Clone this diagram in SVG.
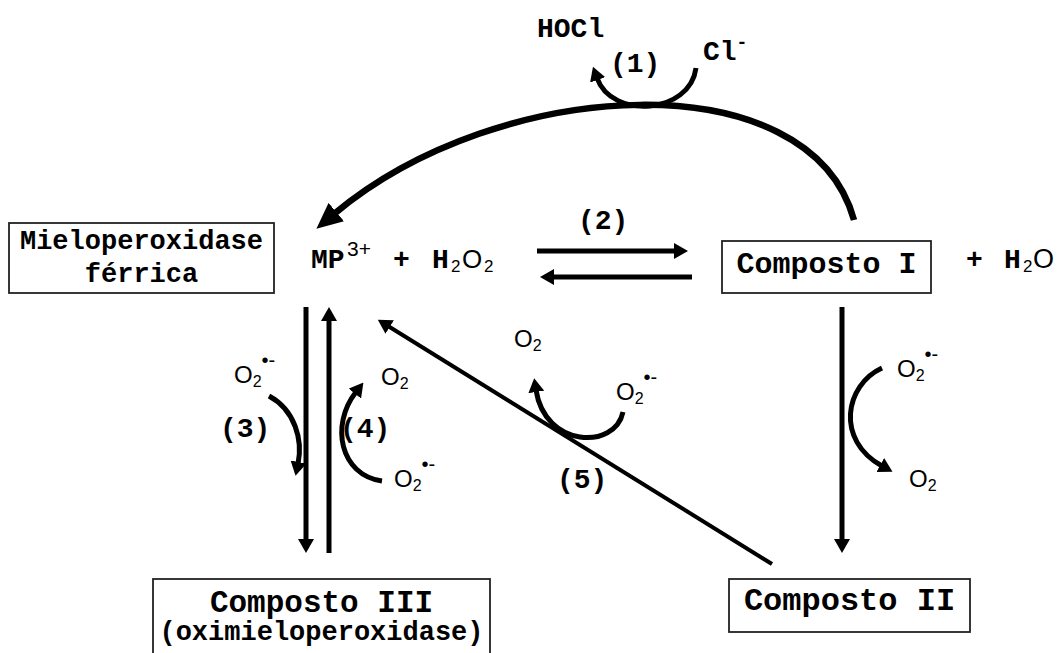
<svg xmlns="http://www.w3.org/2000/svg" width="1062" height="653" viewBox="0 0 1062 653">
<style>
.mono{font-family:"Liberation Mono","Courier New",monospace;font-weight:bold;fill:#000}
.sans{font-family:"Liberation Sans",Arial,sans-serif;fill:#000}
.box{fill:#fff;stroke:#222;stroke-width:1.8}
.ln{fill:none;stroke:#000;stroke-width:5}
.o2{font-family:"Liberation Sans",Arial,sans-serif;font-size:24px;fill:#000}
</style>
<defs>
<marker id="ah" viewBox="0 0 14 16" refX="2" refY="8" markerWidth="14" markerHeight="16" markerUnits="userSpaceOnUse" orient="auto"><path d="M0,0 L14,8 L0,16 z" fill="#000"/></marker>
<marker id="ahb" viewBox="0 0 26 24" refX="3" refY="12" markerWidth="26" markerHeight="24" markerUnits="userSpaceOnUse" orient="auto"><path d="M0,0 L26,12 L0,24 z" fill="#000"/></marker>
</defs>
<rect width="1062" height="653" fill="#fff"/>
<g id="connectors">
<path class="ln" style="stroke-width:6.5" d="M854 220 C810 60 500 75 334 214" marker-end="url(#ahb)"/>
<path class="ln" d="M696 68 C690 114 612 120 597 78" marker-end="url(#ah)"/>
<path class="ln" d="M537 251 L676 251" marker-end="url(#ah)"/>
<path class="ln" d="M692 277 L552 277" marker-end="url(#ah)"/>
<path class="ln" d="M306 307 L306 541" marker-end="url(#ah)"/>
<path class="ln" d="M329 553 L329 319" marker-end="url(#ah)"/>
<path class="ln" d="M842 307 L842 541" marker-end="url(#ah)"/>
<path class="ln" style="stroke-width:4" d="M772 564 L388 326" marker-end="url(#ah)"/>
<path class="ln" d="M269 396 C295 410 303 440 298 464" marker-end="url(#ah)"/>
<path class="ln" d="M382 481 C340 475 330 425 356 392" marker-end="url(#ah)"/>
<path class="ln" d="M623 412 C615 450 545 448 536 390" marker-end="url(#ah)"/>
<path class="ln" d="M882 368 C845 385 835 440 882 466" marker-end="url(#ah)"/>
</g>
<g id="labels">
<text class="mono" x="537" y="37" font-size="28">HOCl</text>
<text class="mono" x="703" y="60" font-size="28">Cl<tspan font-size="18" dy="-12">-</tspan></text>
<text class="mono" x="610" y="72" font-size="28">(1)</text>
<text class="mono" x="578" y="229" font-size="28">(2)</text>
<text class="mono" x="220" y="437" font-size="28">(3)</text>
<text class="mono" x="340" y="437" font-size="28">(4)</text>
<text class="mono" x="557" y="488" font-size="28">(5)</text>
<text class="o2" x="234" y="383">O<tspan font-size="16" dy="4">2</tspan><tspan font-size="20" dy="-20">•-</tspan></text>
<text class="o2" x="381" y="385">O<tspan font-size="16" dy="4">2</tspan></text>
<text class="o2" x="394" y="487">O<tspan font-size="16" dy="4">2</tspan><tspan font-size="20" dy="-20">•-</tspan></text>
<text class="o2" x="514" y="347">O<tspan font-size="16" dy="4">2</tspan></text>
<text class="o2" x="616" y="400">O<tspan font-size="16" dy="4">2</tspan><tspan font-size="20" dy="-20">•-</tspan></text>
<text class="o2" x="897" y="377">O<tspan font-size="16" dy="4">2</tspan><tspan font-size="20" dy="-20">•-</tspan></text>
<text class="o2" x="909" y="487">O<tspan font-size="16" dy="4">2</tspan></text>
</g>
<g id="mieloperoxidase">
<rect class="box" x="9" y="223" width="265" height="70"/>
<text class="mono" x="141.5" y="249" font-size="27" text-anchor="middle">Mieloperoxidase</text>
<text class="mono" x="141.5" y="282" font-size="27" text-anchor="middle">férrica</text>
</g>
<g id="mp3">
<text class="mono" x="311" y="268" font-size="28">MP</text>
<text class="sans" x="347" y="256" font-size="21">3+</text>
<text class="mono" x="393" y="268" font-size="28">+</text>
<text class="mono" x="432" y="268" font-size="28">H</text>
<text class="sans" x="451" y="272" font-size="17">2</text>
<text class="sans" x="462" y="268" font-size="26">O</text>
<text class="sans" x="484" y="272" font-size="17">2</text>
</g>
<g id="composto1">
<rect class="box" x="722" y="241" width="209" height="52"/>
<text class="mono" x="826.5" y="273" font-size="30" text-anchor="middle">Composto I</text>
</g>
<g id="h2o">
<text class="mono" x="966" y="268" font-size="28">+</text>
<text class="mono" x="1004" y="268" font-size="28">H</text>
<text class="sans" x="1023" y="272" font-size="17">2</text>
<text class="sans" x="1033" y="268" font-size="27">O</text>
</g>
<g id="composto2">
<rect class="box" x="729" y="579" width="241" height="53"/>
<text class="mono" x="849.5" y="610" font-size="32" text-anchor="middle">Composto II</text>
</g>
<g id="composto3">
<rect class="box" x="153" y="579" width="337" height="85"/>
<text class="mono" x="321.5" y="612" font-size="31" text-anchor="middle">Composto III</text>
<text class="mono" x="321.5" y="640" font-size="27" text-anchor="middle">(oximieloperoxidase)</text>
</g>
</svg>
